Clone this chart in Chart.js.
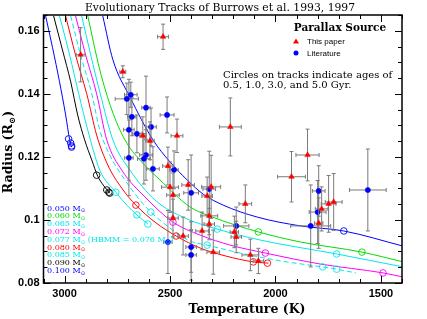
<!DOCTYPE html>
<html>
<head>
<meta charset="utf-8">
<script src="https://cdn.jsdelivr.net/npm/chart.js@4.4.1/dist/chart.umd.min.js"></script>
<style>
html, body { margin: 0; padding: 0; background: #fff; }
</style>
</head>
<body>
<canvas id="chart" width="427" height="319"></canvas>
<script>
// ---- data: this paper (red triangles) ----
var redT    = [2924, 2533, 2724, 2467, 2629, 2595, 2214, 2510, 2500, 2486, 2414, 2305, 2324, 2143, 1924, 2314, 2314, 2348, 2195, 2186, 2295, 2119, 2081, 2486, 2438, 1848, 1781, 1748, 1724, 1795];
var redR    = [0.1524, 0.1581, 0.1470, 0.1267, 0.1267, 0.1251, 0.1295, 0.1171, 0.1104, 0.1079, 0.1111, 0.1105, 0.1076, 0.1051, 0.1137, 0.1013, 0.0987, 0.0965, 0.0962, 0.0946, 0.0898, 0.0889, 0.0870, 0.1006, 0.0949, 0.1206, 0.1035, 0.1051, 0.1057, 0.0990];
var redTErr = [21, 26, 14, 28, 15, 20, 52, 25, 40, 30, 30, 45, 25, 30, 66, 40, 25, 30, 20, 25, 30, 40, 25, 25, 25, 55, 30, 35, 40, 20];
var redRErr = [0.0086, 0.0040, 0.0019, 0.0053, 0.006, 0.006, 0.0092, 0.006, 0.008, 0.007, 0.008, 0.010, 0.006, 0.006, 0.008, 0.006, 0.005, 0.006, 0.005, 0.005, 0.007, 0.005, 0.004, 0.006, 0.006, 0.0082, 0.007, 0.009, 0.009, 0.008];

// ---- data: literature (blue dots) ----
var blueT    = [2686, 2705, 2614, 2681, 2514, 2590, 2695, 2657, 2614, 2695, 2624, 2481, 2581, 2400, 2314, 2186, 2400, 2400, 2510, 1795, 1800, 1562, 1833];
var blueR    = [0.1397, 0.1384, 0.1356, 0.1327, 0.1333, 0.1295, 0.1286, 0.1273, 0.1206, 0.1197, 0.1194, 0.1159, 0.1162, 0.1086, 0.1098, 0.0981, 0.0914, 0.0889, 0.0930, 0.1092, 0.1025, 0.1095, 0.0981];
var blueTErr = [30, 55, 20, 20, 33, 25, 25, 20, 30, 20, 30, 20, 30, 35, 30, 60, 25, 25, 20, 30, 40, 87, 95];
var blueRErr = [0.004, 0.005, 0.010, 0.006, 0.0057, 0.006, 0.016, 0.006, 0.008, 0.012, 0.008, 0.006, 0.007, 0.012, 0.012, 0.006, 0.008, 0.008, 0.010, 0.008, 0.010, 0.013, 0.013];

// ---- evolutionary tracks [Teff, R] ----
var masses = ['0.050', '0.060', '0.065', '0.072', '0.077', '0.080', '0.085', '0.090', '0.100'];
var track050 = [[2819,0.1647],[2771,0.1508],[2690,0.1390],[2581,0.1254],[2500,0.1184],[2419,0.1127],[2343,0.1082],[2248,0.1047],[2086,0.1009],[1881,0.0981],[1676,0.0965],[1395,0.0917]];
var track060 = [[2890,0.1647],[2833,0.1476],[2776,0.1349],[2714,0.1254],[2643,0.1190],[2548,0.1127],[2405,0.1041],[2310,0.1012],[2081,0.0962],[1881,0.0930],[1590,0.0898],[1395,0.0867]];
var track065 = [[2919,0.1647],[2876,0.1523],[2833,0.1406],[2771,0.1254],[2690,0.1158],[2571,0.1063],[2429,0.1006],[2276,0.0971],[2071,0.0936],[1710,0.0892],[1395,0.0851]];
var track072 = [[2948,0.1647],[2900,0.1523],[2848,0.1400],[2800,0.1254],[2729,0.1158],[2619,0.1073],[2486,0.0993],[2357,0.0952],[2214,0.0920],[2048,0.0895],[1786,0.0860],[1490,0.0832],[1395,0.0819]];
var track077 = [[2971,0.1647],[2924,0.1523],[2871,0.1400],[2833,0.1285],[2786,0.1206],[2714,0.1127],[2643,0.1063],[2591,0.1025],[2500,0.0974],[2405,0.0933],[2324,0.0920],[2167,0.0895],[1976,0.0870],[1776,0.0851],[1710,0.0844],[1619,0.0832]];
var track080 = [[2995,0.1647],[2948,0.1523],[2895,0.1400],[2848,0.1269],[2795,0.1174],[2729,0.1101],[2662,0.1047],[2571,0.0993],[2471,0.0949],[2357,0.0911],[2238,0.0886],[2105,0.0867],[2033,0.0863]];
var track085 = [[3024,0.1647],[2976,0.1523],[2933,0.1400],[2890,0.1285],[2833,0.1158],[2757,0.1088],[2705,0.1047],[2657,0.1016],[2605,0.0987]];
var track090 = [[3052,0.1647],[3010,0.1539],[2971,0.1438],[2938,0.1333],[2905,0.1254],[2871,0.1190],[2843,0.1139],[2814,0.1108],[2786,0.1085]];
var track100 = [[3090,0.1647],[3057,0.1546],[3024,0.1438],[2995,0.1333],[2976,0.1254],[2967,0.1231]];

// circles at 0.5, 1.0, 3.0, 5.0 Gyr
var ages050 = [[1676,0.0965]];
var ages060 = [[2081,0.0962],[1590,0.0898]];
var ages065 = [[2276,0.0971],[1710,0.0892]];
var ages072 = [[2486,0.0993],[2048,0.0895],[1490,0.0832]];
var ages077 = [[2591,0.1025],[2324,0.0920],[1776,0.0851],[1710,0.0844]];
var ages080 = [[2662,0.1047],[2471,0.0949],[2105,0.0867],[2038,0.0863]];
var ages085 = [[2757,0.1088],[2657,0.1016],[2605,0.0987]];
var ages090 = [[2848,0.1142],[2800,0.1095],[2790,0.1088],[2786,0.1085]];
var ages100 = [[2981,0.1257],[2971,0.1244],[2967,0.1235],[2967,0.1231]];

var xTicks = [1500, 2000, 2500, 3000];
var yTicks = [0.08, 0.10, 0.12, 0.14, 0.16];
var yTickLabels = ['0.08', '0.1', '0.12', '0.14', '0.16'];

var tracks = [track050, track060, track065, track072, track077, track080, track085, track090, track100];
var ages = [ages050, ages060, ages065, ages072, ages077, ages080, ages085, ages090, ages100];
var colors = ['#0000ff', '#00dd00', '#00e8e8', '#ff00ff', '#00e8e8', '#ff0000', '#00e8e8', '#000000', '#0000ff'];

function pts(list) {
	return list.map(function(p) { return {x: p[0], y: p[1]}; });
}

var datasets = [];

datasets.push({
	label: 'This paper',
	data: redT.map(function(t, i) { return {x: t, y: redR[i]}; }),
	errX: redTErr, errY: redRErr,
	pointStyle: 'triangle', pointRadius: 3.2,
	backgroundColor: '#ff0000', borderColor: '#ff0000', borderWidth: 0.5
});
datasets.push({
	label: 'Literature',
	data: blueT.map(function(t, i) { return {x: t, y: blueR[i]}; }),
	errX: blueTErr, errY: blueRErr,
	pointStyle: 'circle', pointRadius: 2.6,
	backgroundColor: '#0000ff', borderColor: '#0000ff', borderWidth: 0.5
});

masses.forEach(function(m, i) {
	datasets.push({
		label: m + ' ages',
		data: pts(ages[i]),
		pointStyle: 'circle', pointRadius: 3.3,
		backgroundColor: 'rgba(0,0,0,0)', borderColor: colors[i], borderWidth: 0.9
	});
});
masses.forEach(function(m, i) {
	datasets.push({
		label: m,
		data: pts(tracks[i]),
		showLine: true, pointRadius: 0,
		borderColor: colors[i], borderWidth: 1,
		borderDash: m === '0.077' ? [5, 3] : [],
		cubicInterpolationMode: 'monotone'
	});
});

function richText(ctx, parts, x, y, size, family, weight, align) {
	var total = 0;
	parts.forEach(function(p) {
		ctx.font = weight + ' ' + (p[1] ? size * 0.7 : size) + 'px ' + family;
		total += ctx.measureText(p[0]).width;
	});
	var cx = align === 'center' ? x - total / 2 : x;
	parts.forEach(function(p) {
		ctx.font = weight + ' ' + (p[1] ? size * 0.7 : size) + 'px ' + family;
		ctx.fillText(p[0], cx, y + (p[1] ? size * 0.3 : 0));
		cx += ctx.measureText(p[0]).width;
	});
}

var decor = {
	id: 'decor',
	beforeDatasetDraw: function(chart, args) {
		var ds = chart.data.datasets[args.index];
		if (!ds.errX) return;
		var ctx = chart.ctx, a = chart.chartArea, x = chart.scales.x, y = chart.scales.y;
		ctx.save();
		ctx.beginPath();
		ctx.rect(a.left, a.top, a.right - a.left, a.bottom - a.top);
		ctx.clip();
		ctx.strokeStyle = '#7a7a7a';
		ctx.lineWidth = 1;
		ds.data.forEach(function(p, i) {
			var px = x.getPixelForValue(p.x), py = y.getPixelForValue(p.y);
			var x1 = x.getPixelForValue(p.x - ds.errX[i]), x2 = x.getPixelForValue(p.x + ds.errX[i]);
			var y1 = y.getPixelForValue(p.y - ds.errY[i]), y2 = y.getPixelForValue(p.y + ds.errY[i]);
			ctx.beginPath();
			ctx.moveTo(x1, py); ctx.lineTo(x2, py);
			ctx.moveTo(x1, py - 2); ctx.lineTo(x1, py + 2);
			ctx.moveTo(x2, py - 2); ctx.lineTo(x2, py + 2);
			ctx.moveTo(px, y1); ctx.lineTo(px, y2);
			ctx.moveTo(px - 2, y1); ctx.lineTo(px + 2, y1);
			ctx.moveTo(px - 2, y2); ctx.lineTo(px + 2, y2);
			ctx.stroke();
		});
		ctx.restore();
	},
	afterDraw: function(chart) {
		var ctx = chart.ctx, a = chart.chartArea, x = chart.scales.x, y = chart.scales.y;
		ctx.save();
		ctx.strokeStyle = '#000';
		ctx.lineWidth = 1.5;
		ctx.strokeRect(a.left, a.top, a.right - a.left, a.bottom - a.top);
		ctx.lineWidth = 1;
		ctx.beginPath();
		for (var t = 1400; t <= 3100; t += 100) {
			var len = t % 500 === 0 ? 7 : 4;
			var px = Math.round(x.getPixelForValue(t)) + 0.5;
			ctx.moveTo(px, a.bottom); ctx.lineTo(px, a.bottom - len);
			ctx.moveTo(px, a.top); ctx.lineTo(px, a.top + len);
		}
		for (var i = 0; i <= 17; i++) {
			var v = 0.08 + i * 0.005;
			var l2 = i % 4 === 0 ? 7 : 4;
			var py = Math.round(y.getPixelForValue(v)) + 0.5;
			ctx.moveTo(a.left, py); ctx.lineTo(a.left + l2, py);
			ctx.moveTo(a.right, py); ctx.lineTo(a.right - l2, py);
		}
		ctx.stroke();

		ctx.fillStyle = '#000';
		ctx.textBaseline = 'middle';
		ctx.textAlign = 'left';
		var serif = '"DejaVu Serif", serif';

		// title
		richText(ctx, [['Evolutionary Tracks of Burrows et al. 1993, 1997']], 220, 8, 10.8, serif, 'normal', 'center');

		// legend box
		richText(ctx, [['Parallax Source']], 340, 28, 10.5, serif, 'bold', 'center');
		ctx.fillStyle = '#ff0000';
		ctx.beginPath();
		ctx.moveTo(296, 38.5); ctx.lineTo(299, 43.5); ctx.lineTo(293, 43.5); ctx.closePath();
		ctx.fill();
		ctx.fillStyle = '#0000ff';
		ctx.beginPath(); ctx.arc(296, 53, 2.5, 0, Math.PI * 2); ctx.fill();
		ctx.fillStyle = '#000';
		ctx.font = '8px "Liberation Sans", sans-serif';
		ctx.fillText('This paper', 307, 42);
		ctx.fillText('Literature', 307, 54);

		// note
		ctx.font = '10px ' + serif;
		ctx.fillText('Circles on tracks indicate ages of', 223, 75);
		ctx.fillText('0.5, 1.0, 3.0, and 5.0 Gyr.', 223, 85);

		// mass labels
		masses.forEach(function(m, k) {
			ctx.fillStyle = colors[k];
			var parts = [[m + ' M'], ['\u2299', true]];
			if (m === '0.077') parts = parts.concat([[' (HBMM = 0.076 M'], ['\u2299', true], [')']]);
			richText(ctx, parts, 47, 208.5 + k * 7.8, 8, serif, 'normal', 'left');
		});

		// axis titles
		ctx.fillStyle = '#000';
		richText(ctx, [['Temperature (K)']], 247, 310, 12.5, serif, 'bold', 'center');
		ctx.save();
		ctx.translate(9, 152);
		ctx.rotate(-Math.PI / 2);
		richText(ctx, [['Radius (R'], ['\u2299', true], [')']], 0, 0, 12.5, serif, 'bold', 'center');
		ctx.restore();
		ctx.restore();
	}
};

var ctx = document.getElementById('chart');

new Chart(ctx, {
	type: 'scatter',
	data: { datasets: datasets },
	options: {
		responsive: false,
		animation: false,
		devicePixelRatio: 1,
		layout: { padding: { top: 15, right: 25, bottom: 0, left: 0 } },
		plugins: {
			legend: { display: false },
			tooltip: { enabled: false },
			title: { display: false }
		},
		scales: {
			x: {
				type: 'linear', reverse: true, min: 1400, max: 3100,
				afterBuildTicks: function(scale) { scale.ticks = xTicks.map(function(v) { return {value: v}; }); },
				afterFit: function(scale) { scale.height = 36; },
				grid: { display: false, drawTicks: false },
				border: { display: false },
				ticks: {
					color: '#000', padding: 4, maxRotation: 0,
					font: { family: '"Liberation Sans", sans-serif', size: 11, weight: 'bold' },
					callback: function(v) { return String(v); }
				}
			},
			y: {
				type: 'linear', min: 0.08, max: 0.165,
				afterBuildTicks: function(scale) { scale.ticks = yTicks.map(function(v) { return {value: v}; }); },
				afterFit: function(scale) { scale.width = 43.5; },
				grid: { display: false, drawTicks: false },
				border: { display: false },
				ticks: {
					color: '#000', padding: 4,
					font: { family: '"Liberation Sans", sans-serif', size: 11, weight: 'bold' },
					callback: function(v, i) { return yTickLabels[i]; }
				}
			}
		}
	},
	plugins: [decor]
});
</script>
</body>
</html>
